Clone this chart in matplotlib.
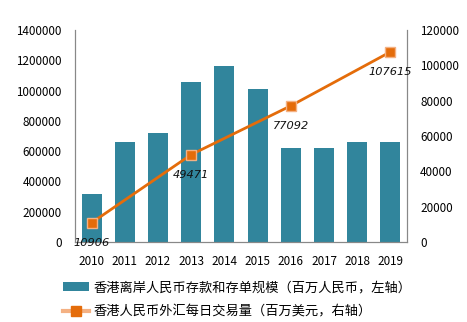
import matplotlib
matplotlib.use("Agg")
import matplotlib.pyplot as plt
from matplotlib.lines import Line2D
from matplotlib.patches import Patch
from matplotlib.ticker import FuncFormatter

plt.rcParams['font.family'] = ['Noto Sans CJK SC', 'DejaVu Sans']

years = ['2010', '2011', '2012', '2013', '2014', '2015', '2016', '2017', '2018', '2019']
deposits = [320000, 660000, 720000, 1055000, 1160000, 1010000, 620000, 620000, 660000, 660000]
fx_years = [0, 3, 6, 9]
fx_volume = [10906, 49471, 77092, 107615]

bar_color = '#31859C'
line_color = '#E46C0A'

fig = plt.figure(figsize=(4.67, 3.22), dpi=100)
ax = fig.add_axes([0.1606, 0.2484, 0.7109, 0.6584])
ax2 = ax.twinx()

ax.bar(range(len(years)), deposits, width=0.6, color=bar_color, zorder=2)
ax.set_xlim(-0.5, 9.5)
ax.set_ylim(0, 1400000)
ax.set_yticks(range(0, 1400001, 200000))
ax.yaxis.set_major_formatter(FuncFormatter(lambda v, p: f'{int(v)}'))
ax.set_xticks(range(len(years)))
ax.set_xticklabels(years)

ax2.plot(fx_years, fx_volume, color=line_color, lw=2, marker='s', ms=7,
         mfc=line_color, mec='#F4B183', mew=1, zorder=3)
ax2.set_ylim(0, 120000)
ax2.set_yticks(range(0, 120001, 20000))

# data labels under each marker
for xi, v in zip(fx_years, fx_volume):
    ax2.text(xi, v - 11300, f'{v}', fontsize=8.2, fontstyle='italic',
             ha='center', va='center', family='DejaVu Sans', color='#111111')

for a in (ax, ax2):
    a.spines['top'].set_visible(False)
    for s in ('left', 'right', 'bottom'):
        a.spines[s].set_color('#888888')
    a.tick_params(length=0, labelsize=8.4)
ax.tick_params(axis='x', pad=9)
ax.tick_params(axis='y', pad=9.5)
ax2.tick_params(axis='y', pad=9.5)

handles = [
    Patch(facecolor=bar_color, edgecolor='none'),
    Line2D([0], [0], color='#F4B183', lw=3, marker='s', ms=7,
           mfc=line_color, mec=line_color),
]
labels = ['香港离岸人民币存款和存单规模（百万人民币，左轴）',
          '香港人民币外汇每日交易量（百万美元，右轴）']
fig.legend(handles, labels, loc='upper left', bbox_to_anchor=(0.135, 0.126),
           frameon=False, fontsize=9.5, handlelength=2.0, handletextpad=0.3,
           labelspacing=0.85, borderaxespad=0, borderpad=0)

fig.savefig('out.png', dpi=100)
